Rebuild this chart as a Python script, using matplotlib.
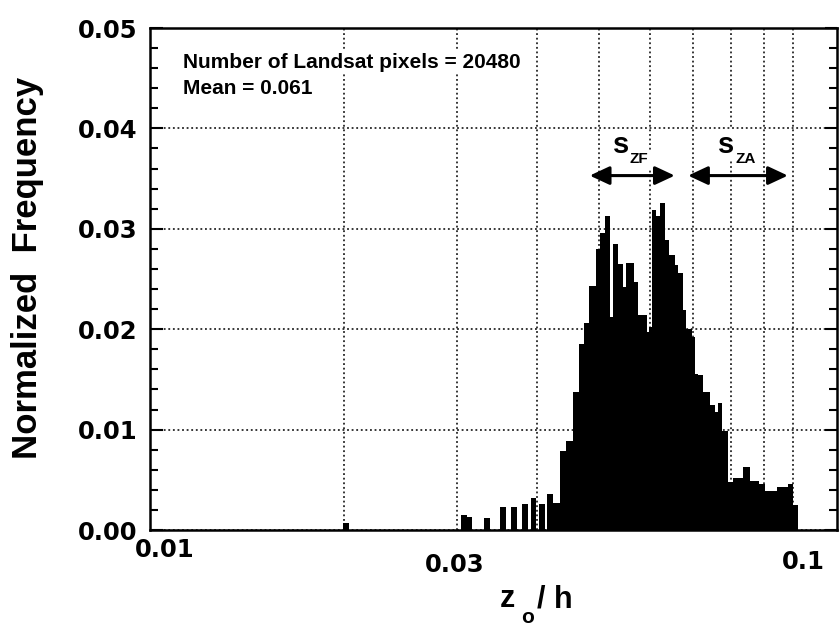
import matplotlib
matplotlib.use("Agg")
import matplotlib.pyplot as plt
import matplotlib.transforms as mtransforms
from matplotlib.ticker import LogLocator, MultipleLocator, NullFormatter, FormatStrFormatter
import numpy as np

# histogram of z0/h (bin edges and heights)
edges = [0.04234, 0.04342, 0.04436, 0.04544, 0.04647, 0.04736, 0.04822, 0.04934,
         0.05010, 0.05100, 0.05193, 0.05243, 0.05350, 0.05446, 0.05499, 0.05659,
         0.05741, 0.05929, 0.05972, 0.06036, 0.06123, 0.06212, 0.06324, 0.06415,
         0.06554, 0.06625, 0.06745, 0.06818, 0.06966, 0.07041, 0.07117, 0.07245,
         0.07430, 0.07564, 0.07645, 0.07756, 0.07939, 0.08068, 0.08362, 0.08575,
         0.08856, 0.09048, 0.09444, 0.09822, 0.1000, 0.1018]
freq = [0.0027, 0.0079, 0.0089, 0.0137, 0.0185, 0.0206, 0.0243, 0.0280,
        0.0296, 0.0313, 0.0212, 0.0285, 0.0265, 0.0242, 0.0266, 0.0247,
        0.0214, 0.0197, 0.0202, 0.0319, 0.0313, 0.0326, 0.0289, 0.0274,
        0.0264, 0.0256, 0.0219, 0.0200, 0.0192, 0.0155, 0.0154, 0.0137,
        0.0125, 0.0118, 0.0126, 0.0099, 0.0048, 0.0052, 0.0063, 0.0049,
        0.0046, 0.0039, 0.0043, 0.0046, 0.0025]

# isolated bars at the low end
sparse_z = [0.0202, 0.0308, 0.0313, 0.0334, 0.0354, 0.0368, 0.0383, 0.0395, 0.0407, 0.0419]
sparse_freq = [0.0007, 0.0015, 0.0013, 0.0012, 0.0023, 0.0023, 0.0026, 0.0032, 0.0026, 0.0036]

xticks = [0.01, 0.03, 0.1]
xtick_labels = ["0.01", "0.03", "0.1"]
n_pixels = 20480
mean_z = 0.061

plt.rcParams["font.family"] = "DejaVu Sans"
plt.rcParams["font.weight"] = "bold"
txt = dict(family="Liberation Sans", weight="bold")

W, H = 840, 629
def fx(px):
    return px / W
def fy(py):
    return 1 - py / H

fig = plt.figure(figsize=(8.4, 6.29), dpi=100)
ax = fig.add_axes([fx(150), fy(530), (837 - 150) / W, (530 - 28) / H])

ax.stairs(freq, edges, fill=True, color="black", lw=0, zorder=2)
ax.bar(sparse_z, sparse_freq, width=np.array(sparse_z) * 0.021, color="black", lw=0, zorder=2)

ax.set_xscale("log")
ax.set_xlim(0.01, 0.1171)
ax.set_ylim(0, 0.05)

ax.set_xticks(xticks, xtick_labels)
ax.xaxis.set_minor_locator(LogLocator(base=10, subs=np.arange(2, 10)))
ax.xaxis.set_minor_formatter(NullFormatter())
ax.yaxis.set_major_locator(MultipleLocator(0.01))
ax.yaxis.set_minor_locator(MultipleLocator(0.002))
ax.yaxis.set_major_formatter(FormatStrFormatter("%.2f"))

ax.set_axisbelow(True)
ax.grid(which="both", axis="x", color="black", lw=1.1, linestyle=(0, (1.2, 1.8)))
ax.grid(which="major", axis="y", color="black", lw=1.1, linestyle=(0, (1.2, 1.8)))

ax.tick_params(axis="y", which="both", direction="in", left=True, right=True,
               width=1.5, labelsize=17.5, pad=9)
ax.tick_params(axis="y", which="major", length=9)
ax.tick_params(axis="y", which="minor", length=6)
ax.tick_params(axis="x", which="both", direction="in", top=True, bottom=True,
               length=0, labelsize=17.5, pad=6)
for s in ax.spines.values():
    s.set_linewidth(1.8)

# hand-placed x tick labels of the original
offsets = [(15, 0), (-2, -15), (10, -12)]
for lab, (dx, dy) in zip(ax.get_xticklabels(), offsets):
    lab.set_transform(lab.get_transform() +
                      mtransforms.ScaledTranslation(dx / 100, dy / 100, fig.dpi_scale_trans))

# axis labels
fig.text(fx(28), fy(268), "Normalized  Frequency", rotation=90, ha="center", va="center",
         size=25, **txt)
fig.text(fx(500), fy(607), "z", size=22, va="baseline", **txt)
fig.text(fx(521), fy(623), "o", size=15, va="baseline", **txt)
fig.text(fx(537), fy(607), "/ h", size=22, va="baseline", **txt)

# annotation text
box = dict(facecolor="white", edgecolor="none", pad=1.5)
fig.text(fx(183), fy(68), f"Number of Landsat pixels = {n_pixels}", size=15,
         va="baseline", bbox=box, **txt)
fig.text(fx(183), fy(94), f"Mean = {mean_z:.3f}", size=15, va="baseline", bbox=box, **txt)

# s_ZF and s_ZA ranges
fig.text(fx(613), fy(153), "s", size=21, va="baseline", bbox=box, **txt)
fig.text(fx(630), fy(163), "ZF", size=11, va="baseline", bbox=box, **txt)
fig.text(fx(718), fy(153), "s", size=21, va="baseline", bbox=box, **txt)
fig.text(fx(735), fy(163), "ZA", size=11, va="baseline", bbox=box, **txt)

arrow = dict(arrowstyle="<|-|>,head_length=0.6,head_width=0.28", color="black", lw=2.2,
             mutation_scale=20, shrinkA=0, shrinkB=0)
ax.annotate("", xy=(0.0655, 0.0353), xytext=(0.0483, 0.0353), arrowprops=arrow)
ax.annotate("", xy=(0.0982, 0.0353), xytext=(0.0687, 0.0353), arrowprops=arrow)

fig.savefig("out.png", dpi=100)
